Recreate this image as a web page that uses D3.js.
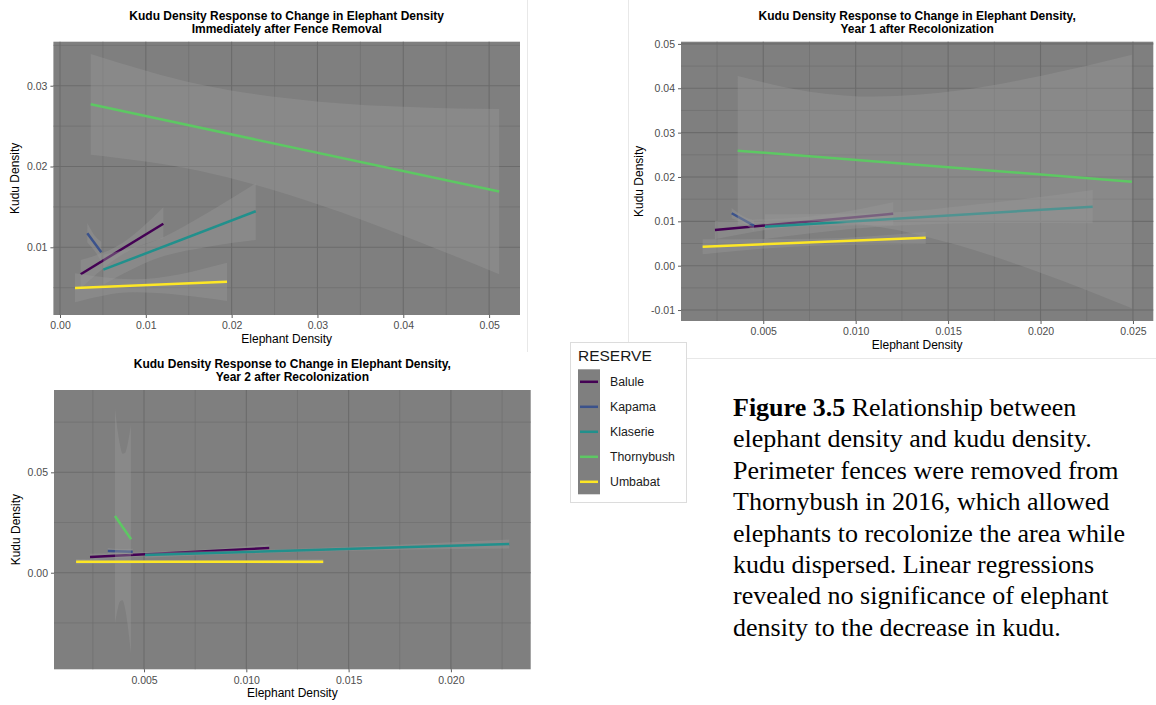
<!DOCTYPE html>
<html>
<head>
<meta charset="utf-8">
<script src="https://cdnjs.cloudflare.com/ajax/libs/d3/7.8.5/d3.min.js"></script>
<style>
  body { margin: 0; background: #fff; }
  svg { display: block; font-family: "Liberation Sans", Arial, sans-serif; }
</style>
</head>
<body>
<svg id="fig" width="1156" height="705"></svg>
<script>
const reserves = ["Balule", "Kapama", "Klaserie", "Thornybush", "Umbabat"];
const reserveColors = ["#440154", "#3b528b", "#21908c", "#5dc863", "#fde725"];

// fitted lines: [x start, y start, x end, y end], one per reserve
// bands: [x, lower, upper] read along each confidence ribbon

// immediately after fence removal
const fenceLines = [
  [0.00241, 0.00667, 0.01204, 0.01292],
  [0.00318, 0.01173, 0.00481, 0.00938],
  [0.00505, 0.00723, 0.02281, 0.01446],
  [0.00358, 0.02770, 0.05117, 0.01690],
  [0.00175, 0.00496, 0.01946, 0.00574]
];
const fenceBands = [
  [[0.00241, 0.00492, 0.00843], [0.00723, 0.00908, 0.01049], [0.01204, 0.01111, 0.01495]],
  [[0.00318, 0.0106, 0.0130], [0.0040, 0.0096, 0.0115], [0.00481, 0.0082, 0.0107]],
  [[0.00505, 0.00537, 0.00909], [0.01166, 0.00876, 0.01107], [0.01710, 0.01004, 0.01421], [0.02281, 0.0109, 0.01792]],
  [[0.00358, 0.02146, 0.03392], [0.01632, 0.01944, 0.03015], [0.02992, 0.01537, 0.02806], [0.04157, 0.01078, 0.02734], [0.05117, 0.00666, 0.02712]],
  [[0.00175, 0.00319, 0.00678], [0.00855, 0.00443, 0.00604], [0.01946, 0.00335, 0.00809]]
];
const fenceXTicks = [0, 0.01, 0.02, 0.03, 0.04, 0.05];
const fenceXMinor = [0.005, 0.015, 0.025, 0.035, 0.045];
const fenceYTicks = [0.01, 0.02, 0.03];
const fenceYMinor = [0.005, 0.015, 0.025, 0.035];

// year 1 after recolonization
const year1Lines = [
  [0.002386, 0.00805, 0.01203, 0.01173],
  [0.00329, 0.01182, 0.0045, 0.00902],
  [0.00509, 0.0088, 0.02282, 0.01331],
  [0.003615, 0.02594, 0.02494, 0.01895],
  [0.00172, 0.00429, 0.01379, 0.00632]
];
const year1Bands = [
  [[0.002386, 0.00595, 0.01015], [0.007257, 0.00888, 0.01099], [0.01203, 0.00918, 0.0143]],
  [[0.00329, 0.0107, 0.0130], [0.0039, 0.0096, 0.0112], [0.0045, 0.0078, 0.0102]],
  [[0.00509, 0.00602, 0.01159], [0.01104, 0.00873, 0.01189], [0.01736, 0.00963, 0.01421], [0.02282, 0.00956, 0.01708]],
  [[0.003615, 0.00911, 0.04279], [0.00743, 0.01008, 0.0393], [0.01104, 0.00891, 0.03812], [0.01555, 0.0046, 0.03948], [0.02006, -0.00171, 0.04282], [0.02494, -0.00961, 0.04753]],
  [[0.00172, 0.00257, 0.00595], [0.0078, 0.00451, 0.00609], [0.01379, 0.00489, 0.00767]]
];
const year1XTicks = [0.005, 0.010, 0.015, 0.020, 0.025];
const year1XMinor = [0.0025, 0.0075, 0.0125, 0.0175, 0.0225];
const year1YTicks = [-0.01, 0, 0.01, 0.02, 0.03, 0.04, 0.05];
const year1YMinor = [-0.005, 0.005, 0.015, 0.025, 0.035, 0.045];

// year 2 after recolonization
const year2Lines = [
  [0.00236, 0.00782, 0.01112, 0.01231],
  [0.00323, 0.01081, 0.00445, 0.01046],
  [0.00505, 0.00882, 0.02285, 0.0143],
  [0.00358, 0.02825, 0.00437, 0.01664],
  [0.00168, 0.00548, 0.01376, 0.00548]
];
const year2Bands = [
  [[0.00236, 0.0062, 0.00945], [0.00674, 0.0092, 0.0109], [0.01112, 0.0105, 0.0141]],
  [[0.00323, 0.0093, 0.0123], [0.00384, 0.0096, 0.0118], [0.00445, 0.0090, 0.0119]],
  [[0.00505, 0.0075, 0.0102], [0.0125, 0.0103, 0.0119], [0.02285, 0.0121, 0.0165]],
  [[0.00358, -0.02541, 0.08191], [0.00371, -0.01818, 0.0708], [0.00383, -0.0142, 0.06343], [0.00395, -0.0137, 0.0592], [0.00407, -0.01759, 0.05959], [0.0042, -0.02606, 0.06413], [0.00436, -0.04036, 0.07359]],
  [[0.00168, 0.0042, 0.0068], [0.00772, 0.0049, 0.0061], [0.01376, 0.0042, 0.0068]]
];
const year2XTicks = [0.005, 0.010, 0.015, 0.020];
const year2XMinor = [0.0025, 0.0075, 0.0125, 0.0175, 0.0225];
const year2YTicks = [0, 0.05];
const year2YMinor = [-0.025, 0.025, 0.075];

const captionLines = [
  "elephant density and kudu density.",
  "Perimeter fences were removed from",
  "Thornybush in 2016, which allowed",
  "elephants to recolonize the area while",
  "kudu dispersed. Linear regressions",
  "revealed no significance of elephant",
  "density to the decrease in kudu."
];

const svg = d3.select("#fig");
const dash = s => s.replace("\u2212", "-");

// faint edges of the pasted plot images
svg.append("line").attr("x1", 527.5).attr("x2", 527.5).attr("y1", 0).attr("y2", 352)
  .attr("stroke", "#e8e8e8").attr("stroke-width", 1);
svg.append("line").attr("x1", 628.5).attr("x2", 628.5).attr("y1", 0).attr("y2", 358)
  .attr("stroke", "#e8e8e8").attr("stroke-width", 1);
svg.append("line").attr("x1", 628).attr("x2", 1156).attr("y1", 358.5).attr("y2", 358.5)
  .attr("stroke", "#e8e8e8").attr("stroke-width", 1);

function drawPanel(cfg, id) {
  const x = d3.scaleLinear().domain(cfg.xDomain).range([cfg.left, cfg.right]);
  const y = d3.scaleLinear().domain(cfg.yDomain).range([cfg.bottom, cfg.top]);
  const g = svg.append("g");

  g.append("clipPath").attr("id", "clip" + id)
    .append("rect").attr("x", cfg.left).attr("y", cfg.top)
    .attr("width", cfg.right - cfg.left).attr("height", cfg.bottom - cfg.top);

  g.append("rect").attr("x", cfg.left).attr("y", cfg.top)
    .attr("width", cfg.right - cfg.left).attr("height", cfg.bottom - cfg.top)
    .attr("fill", "#7f7f7f");

  // grid
  const grid = g.append("g").attr("stroke", "#6b6b6b");
  cfg.xMinor.forEach(v => grid.append("line").attr("x1", x(v)).attr("x2", x(v))
    .attr("y1", cfg.top).attr("y2", cfg.bottom).attr("stroke-width", 0.6));
  cfg.yMinor.forEach(v => grid.append("line").attr("y1", y(v)).attr("y2", y(v))
    .attr("x1", cfg.left).attr("x2", cfg.right).attr("stroke-width", 0.6));
  cfg.xTicks.forEach(v => grid.append("line").attr("x1", x(v)).attr("x2", x(v))
    .attr("y1", cfg.top).attr("y2", cfg.bottom).attr("stroke-width", 1.1));
  cfg.yTicks.forEach(v => grid.append("line").attr("y1", y(v)).attr("y2", y(v))
    .attr("x1", cfg.left).attr("x2", cfg.right).attr("stroke-width", 1.1));

  // ribbons and fits, drawn group by group
  const plot = g.append("g").attr("clip-path", `url(#clip${id})`);
  const area = d3.area()
    .x(d => x(d[0])).y0(d => y(d[1])).y1(d => y(d[2]))
    .curve(d3.curveMonotoneX);
  reserves.forEach((r, i) => {
    plot.append("path").datum(cfg.bands[i]).attr("d", area)
      .attr("fill", "#999999").attr("fill-opacity", 0.4);
    const l = cfg.lines[i];
    plot.append("line")
      .attr("x1", x(l[0])).attr("y1", y(l[1]))
      .attr("x2", x(l[2])).attr("y2", y(l[3]))
      .attr("stroke", reserveColors[i]).attr("stroke-width", 2.5);
  });

  // axes
  const xAxis = d3.axisBottom(x).tickValues(cfg.xTicks)
    .tickFormat(v => dash(d3.format(cfg.xFmt)(v))).tickSize(3).tickPadding(4);
  const yAxis = d3.axisLeft(y).tickValues(cfg.yTicks)
    .tickFormat(v => dash(d3.format(cfg.yFmt)(v))).tickSize(3).tickPadding(3);
  [g.append("g").attr("transform", `translate(0,${cfg.bottom})`).call(xAxis),
   g.append("g").attr("transform", `translate(${cfg.left},0)`).call(yAxis)]
    .forEach(a => {
      a.select(".domain").remove();
      a.attr("font-size", null).attr("font-family", null);
      a.selectAll(".tick line").attr("stroke", "#333333").attr("stroke-width", 0.8);
      a.selectAll(".tick text").attr("fill", "#4d4d4d").style("font-size", "10.5px")
        .style("font-family", "Liberation Sans, Arial, sans-serif");
    });

  g.append("text").attr("x", (cfg.left + cfg.right) / 2).attr("y", cfg.bottom + 28)
    .attr("text-anchor", "middle").attr("font-size", "12px").attr("fill", "#000")
    .text("Elephant Density");
  g.append("text")
    .attr("transform", `translate(${cfg.yTitleX},${(cfg.top + cfg.bottom) / 2}) rotate(-90)`)
    .attr("text-anchor", "middle").attr("dy", "0.35em")
    .attr("font-size", "12px").attr("fill", "#000")
    .text("Kudu Density");

  cfg.title.forEach((t, k) => {
    g.append("text").attr("x", (cfg.left + cfg.right) / 2).attr("y", cfg.titleY + k * 13)
      .attr("text-anchor", "middle").attr("font-size", "12px").attr("font-weight", "bold")
      .attr("fill", "#000").text(t);
  });
}

drawPanel({
  left: 53.4, right: 520, top: 41.7, bottom: 315,
  xDomain: [-0.00077, 0.0536], yDomain: [0.00162, 0.03545],
  lines: fenceLines, bands: fenceBands,
  xTicks: fenceXTicks, xMinor: fenceXMinor, yTicks: fenceYTicks, yMinor: fenceYMinor,
  xFmt: ".2f", yFmt: ".2f",
  title: ["Kudu Density Response to Change in Elephant Density", "Immediately after Fence Removal"],
  titleY: 20, yTitleX: 15
}, 1);

drawPanel({
  left: 681, right: 1153.3, top: 41.7, bottom: 321,
  xDomain: [0.00055, 0.0261], yDomain: [-0.01247, 0.0505],
  lines: year1Lines, bands: year1Bands,
  xTicks: year1XTicks, xMinor: year1XMinor, yTicks: year1YTicks, yMinor: year1YMinor,
  xFmt: ".3f", yFmt: ".2f",
  title: ["Kudu Density Response to Change in Elephant Density,", "Year 1 after Recolonization"],
  titleY: 20.3, yTitleX: 639
}, 2);

drawPanel({
  left: 54, right: 530.7, top: 390, bottom: 669.3,
  xDomain: [0.0006, 0.0239], yDomain: [-0.0481, 0.0910],
  lines: year2Lines, bands: year2Bands,
  xTicks: year2XTicks, xMinor: year2XMinor, yTicks: year2YTicks, yMinor: year2YMinor,
  xFmt: ".3f", yFmt: ".2f",
  title: ["Kudu Density Response to Change in Elephant Density,", "Year 2 after Recolonization"],
  titleY: 367.6, yTitleX: 16
}, 3);

// legend
const legend = svg.append("g");
legend.append("rect").attr("x", 570.5).attr("y", 342.5).attr("width", 116).attr("height", 160)
  .attr("fill", "#fff").attr("stroke", "#dcdcdc").attr("stroke-width", 1);
legend.append("text").attr("x", 578).attr("y", 361).attr("font-size", "15.5px")
  .attr("fill", "#1a1a1a").text("RESERVE");
const keyY = d3.scaleBand().domain(reserves).range([369.3, 494.3]);
legend.append("rect").attr("x", 578).attr("y", 369.3).attr("width", 22).attr("height", 125)
  .attr("fill", "#7f7f7f");
reserves.forEach((r, i) => {
  const cy = keyY(r) + keyY.bandwidth() / 2;
  legend.append("line").attr("x1", 580).attr("x2", 598).attr("y1", cy).attr("y2", cy)
    .attr("stroke", reserveColors[i]).attr("stroke-width", 2.5);
  legend.append("text").attr("x", 610).attr("y", cy + 4.3).attr("font-size", "12.3px")
    .attr("fill", "#1a1a1a").text(r);
});

// caption
const cap = svg.append("g").attr("font-family", "Liberation Serif, Times New Roman, serif")
  .attr("font-size", "26px").attr("fill", "#000");
const first = cap.append("text").attr("x", 733).attr("y", 416);
first.append("tspan").attr("font-weight", "bold").text("Figure 3.5");
first.append("tspan").text(" Relationship between");
captionLines.forEach((t, i) => {
  cap.append("text").attr("x", 733).attr("y", 416 + (i + 1) * 31.4).text(t);
});
</script>
</body>
</html>
